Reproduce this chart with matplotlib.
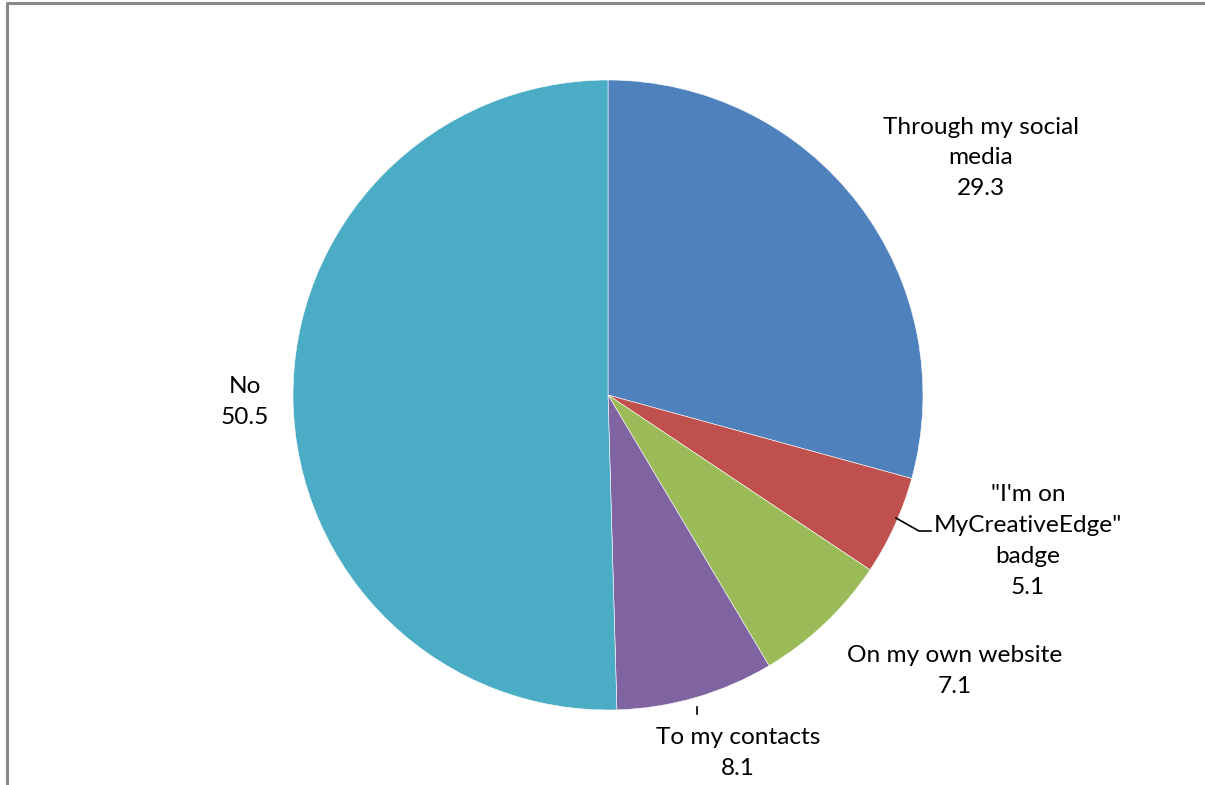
import matplotlib.pyplot as plt
from matplotlib.lines import Line2D

# --- DATA ---
labels = ["Through my social\nmedia", "\"I'm on\nMyCreativeEdge\"\nbadge",
          "On my own website", "To my contacts", "No"]
values = [29.3, 5.1, 7.1, 8.1, 50.5]
colors = ["#4F81BD", "#C0504D", "#9BBB59", "#8064A2", "#4BACC6"]

# label anchor positions in pixel space (x, y from top)
label_pos = [(981, 158), (1028, 541), (955, 671), (738, 753), (245, 402)]

W, H = 1205, 785
fig = plt.figure(figsize=(W / 100, H / 100), dpi=100)
ax = fig.add_axes([0, 0, 1, 1])

ax.pie(values, colors=colors, startangle=90, counterclock=False,
       center=(608, H - 395), radius=315, frame=True,
       wedgeprops=dict(edgecolor="white", linewidth=0.4))
ax.axis("off")
ax.set_xlim(0, W)
ax.set_ylim(0, H)
ax.set_aspect("equal")

for lab, v, (x, y) in zip(labels, values, label_pos):
    ax.text(x, H - y, f"{lab}\n{v}", ha="center", va="center",
            fontsize=17.6, family="Lato", linespacing=1.58, color="black")

# leader lines
ax.add_line(Line2D([896, 919, 931], [H - 518, H - 531, H - 531], color="black", lw=1.2))
ax.add_line(Line2D([697, 697], [H - 707, H - 714], color="black", lw=1.2))

# chart frame (partly cut off)
ax.add_line(Line2D([7, 7, W], [0, H - 2.5, H - 2.5], color="#888888", lw=2.2))

fig.savefig("out.png", dpi=100)
